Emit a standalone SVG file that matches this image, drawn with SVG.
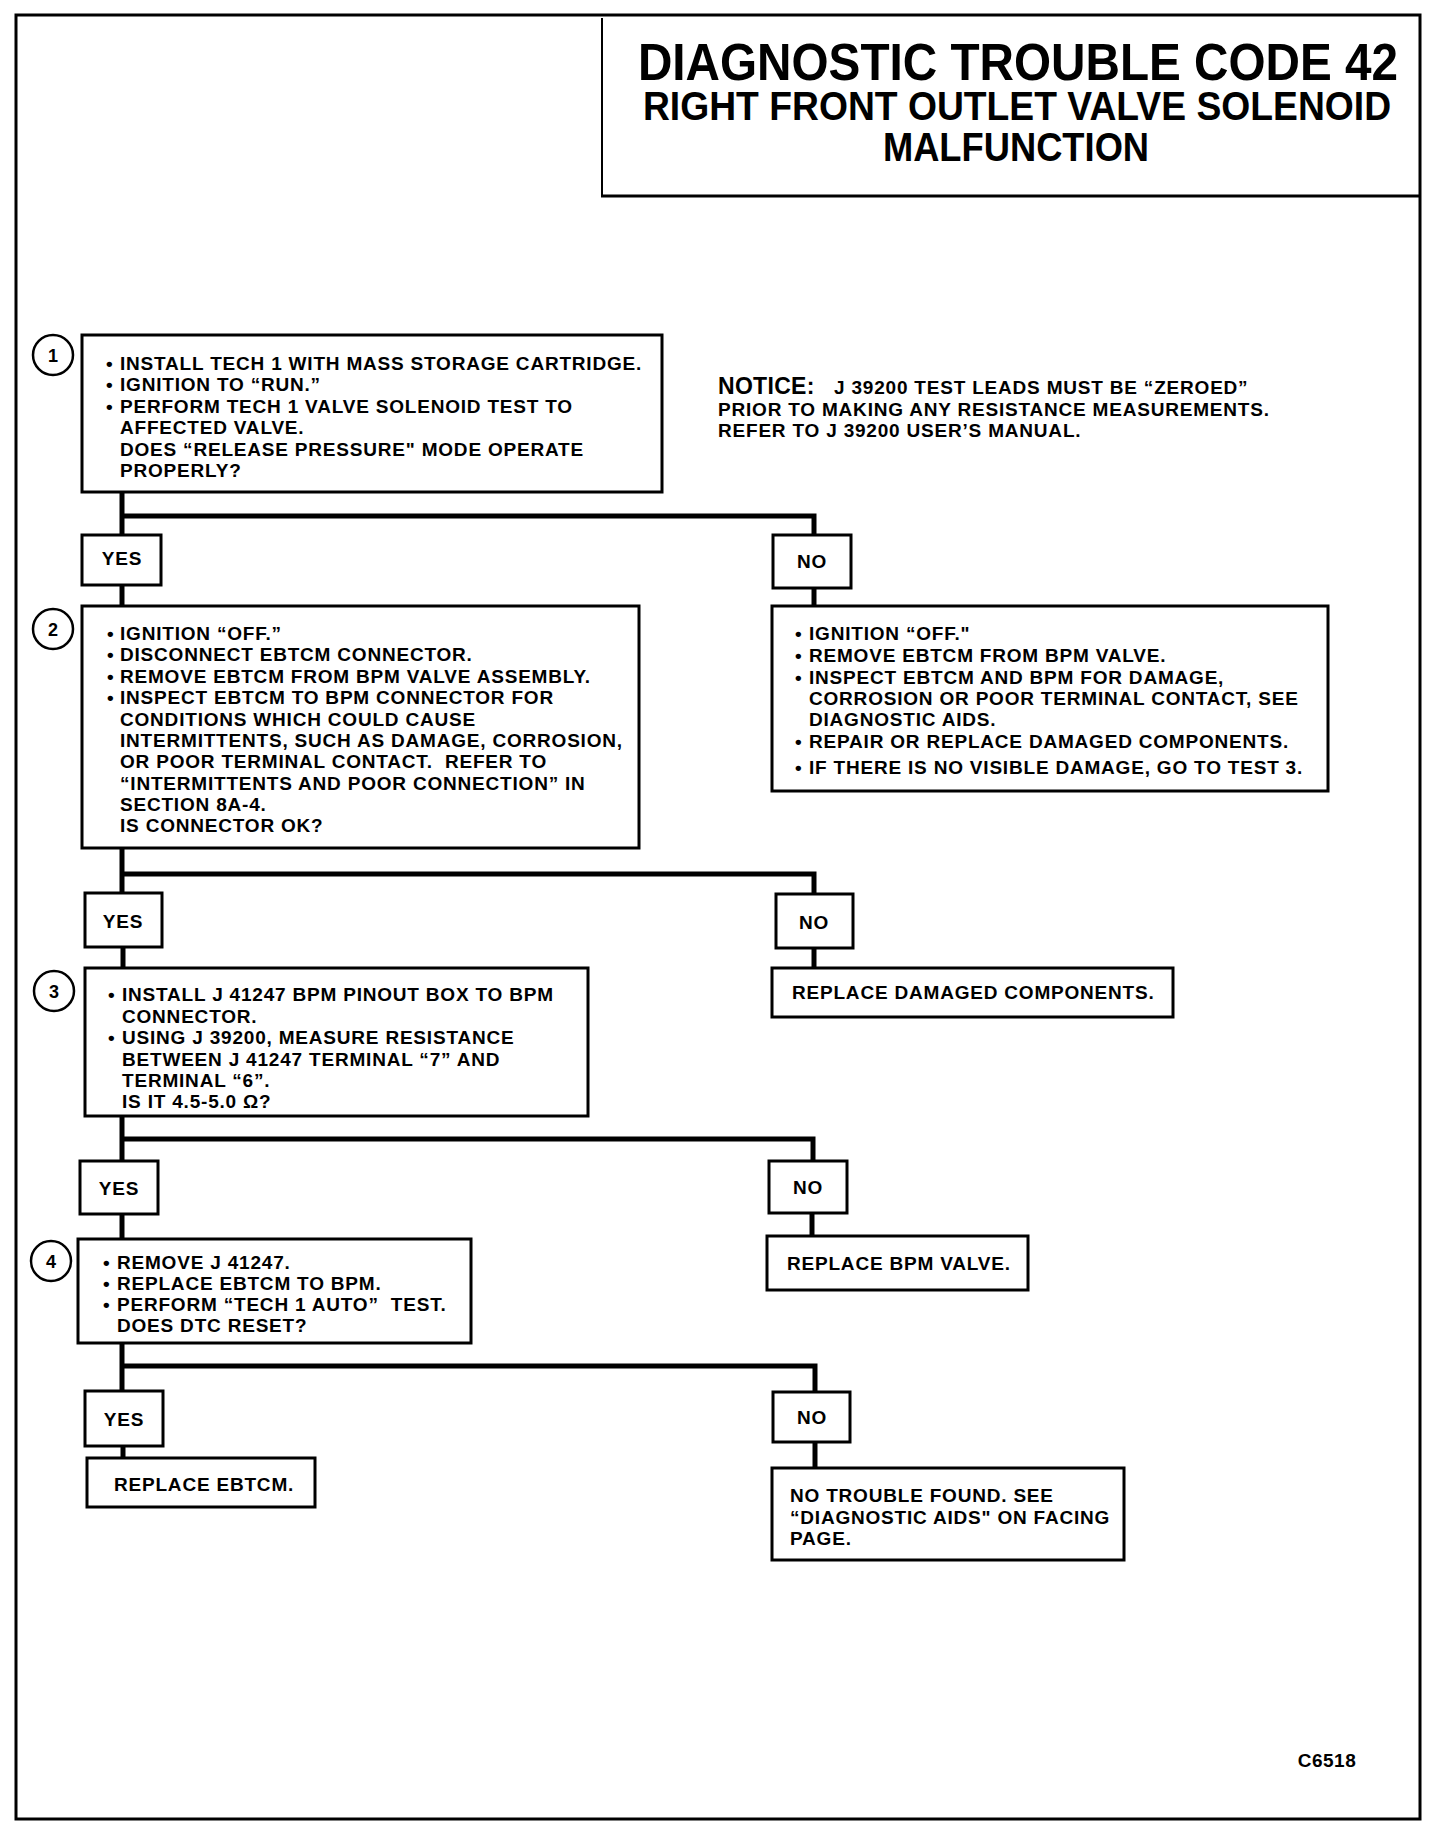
<svg xmlns="http://www.w3.org/2000/svg" width="1456" height="1842" viewBox="0 0 1456 1842">
<style>
.t{font-family:"Liberation Sans",Arial,sans-serif;font-weight:bold;font-size:19px;letter-spacing:0.8px;fill:#000}
.c{text-anchor:middle}
.h{font-family:"Liberation Sans",Arial,sans-serif;font-weight:bold;fill:#000;text-anchor:middle}
.box{fill:#fff;stroke:#000;stroke-width:3}
.conn{fill:none;stroke:#000;stroke-width:5}
.circ{fill:#fff;stroke:#000;stroke-width:2.5}
.num{font-family:"Liberation Sans",Arial,sans-serif;font-weight:bold;font-size:18px;text-anchor:middle;fill:#000}
</style>
<rect x="0" y="0" width="1456" height="1842" fill="#fff"/>
<g id="frame"><rect x="16" y="15" width="1404" height="1804" fill="none" stroke="#000" stroke-width="3"/></g>
<g id="title">
<line x1="602" y1="18" x2="602" y2="197" stroke="#000" stroke-width="2"/>
<line x1="601" y1="196" x2="1420" y2="196" stroke="#000" stroke-width="3"/>
<text class="h" transform="translate(1018,80) scale(0.917,1)" font-size="52">DIAGNOSTIC TROUBLE CODE 42</text>
<text class="h" transform="translate(1017,120) scale(0.932,1)" font-size="40">RIGHT FRONT OUTLET VALVE SOLENOID</text>
<text class="h" transform="translate(1016,161) scale(0.908,1)" font-size="40">MALFUNCTION</text>
</g>
<g id="notice">
<text class="t" x="718" y="394" style="font-size:23px;letter-spacing:0.3px">NOTICE:</text>
<text class="t" x="834" y="394">J 39200 TEST LEADS MUST BE “ZEROED”</text>
<text class="t" x="718" y="416">PRIOR TO MAKING ANY RESISTANCE MEASUREMENTS.</text>
<text class="t" x="718" y="437">REFER TO J 39200 USER’S MANUAL.</text>
</g>
<g id="connectors">
<path class="conn" d="M122,492 V535 M122,516 H814 V535"/>
<path class="conn" d="M122,585 V606"/>
<path class="conn" d="M814,588 V606"/>
<path class="conn" d="M122,848 V893 M122,874 H814 V895"/>
<path class="conn" d="M123,947 V968"/>
<path class="conn" d="M814,947 V968"/>
<path class="conn" d="M122,1116 V1161 M122,1139 H813 V1161"/>
<path class="conn" d="M122,1214 V1239"/>
<path class="conn" d="M812,1212 V1236"/>
<path class="conn" d="M122,1343 V1391 M122,1366 H815 V1392"/>
<path class="conn" d="M123,1446 V1458"/>
<path class="conn" d="M815,1442 V1468"/>
</g>
<g id="step1">
<circle class="circ" cx="53" cy="355" r="20"/><text class="num" x="53" y="362">1</text>
<rect class="box" x="82" y="335" width="580" height="157"/>
<text class="t" y="370"><tspan x="106">•</tspan><tspan x="120">INSTALL TECH 1 WITH MASS STORAGE CARTRIDGE.</tspan></text>
<text class="t" y="391"><tspan x="106">•</tspan><tspan x="120">IGNITION TO “RUN.”</tspan></text>
<text class="t" y="413"><tspan x="106">•</tspan><tspan x="120">PERFORM TECH 1 VALVE SOLENOID TEST TO</tspan></text>
<text class="t" x="120" y="434">AFFECTED VALVE.</text>
<text class="t" x="120" y="456">DOES “RELEASE PRESSURE" MODE OPERATE</text>
<text class="t" x="120" y="477">PROPERLY?</text>
</g>
<g id="yes1"><rect class="box" x="82" y="535" width="79" height="50"/><text class="t c" x="122" y="565">YES</text></g>
<g id="no1"><rect class="box" x="773" y="535" width="78" height="53"/><text class="t c" x="812" y="568">NO</text></g>
<g id="step2">
<circle class="circ" cx="53" cy="629" r="20"/><text class="num" x="53" y="636">2</text>
<rect class="box" x="82" y="606" width="557" height="242"/>
<text class="t" y="640"><tspan x="107">•</tspan><tspan x="120">IGNITION “OFF.”</tspan></text>
<text class="t" y="661"><tspan x="107">•</tspan><tspan x="120">DISCONNECT EBTCM CONNECTOR.</tspan></text>
<text class="t" y="683"><tspan x="107">•</tspan><tspan x="120">REMOVE EBTCM FROM BPM VALVE ASSEMBLY.</tspan></text>
<text class="t" y="704"><tspan x="107">•</tspan><tspan x="120">INSPECT EBTCM TO BPM CONNECTOR FOR</tspan></text>
<text class="t" x="120" y="726">CONDITIONS WHICH COULD CAUSE</text>
<text class="t" x="120" y="747">INTERMITTENTS, SUCH AS DAMAGE, CORROSION,</text>
<text class="t" x="120" y="768">OR POOR TERMINAL CONTACT.&#160; REFER TO</text>
<text class="t" x="120" y="790">“INTERMITTENTS AND POOR CONNECTION” IN</text>
<text class="t" x="120" y="811">SECTION 8A-4.</text>
<text class="t" x="120" y="832">IS CONNECTOR OK?</text>
</g>
<g id="inspect">
<rect class="box" x="772" y="606" width="556" height="185"/>
<text class="t" y="640"><tspan x="795">•</tspan><tspan x="809">IGNITION “OFF."</tspan></text>
<text class="t" y="662"><tspan x="795">•</tspan><tspan x="809">REMOVE EBTCM FROM BPM VALVE.</tspan></text>
<text class="t" y="684"><tspan x="795">•</tspan><tspan x="809">INSPECT EBTCM AND BPM FOR DAMAGE,</tspan></text>
<text class="t" x="809" y="705">CORROSION OR POOR TERMINAL CONTACT, SEE</text>
<text class="t" x="809" y="726">DIAGNOSTIC AIDS.</text>
<text class="t" y="748"><tspan x="795">•</tspan><tspan x="809">REPAIR OR REPLACE DAMAGED COMPONENTS.</tspan></text>
<text class="t" y="774"><tspan x="795">•</tspan><tspan x="809">IF THERE IS NO VISIBLE DAMAGE, GO TO TEST 3.</tspan></text>
</g>
<g id="yes2"><rect class="box" x="85" y="893" width="77" height="54"/><text class="t c" x="123" y="928">YES</text></g>
<g id="no2"><rect class="box" x="776" y="894" width="77" height="54"/><text class="t c" x="814" y="929">NO</text></g>
<g id="step3">
<circle class="circ" cx="54" cy="991" r="20"/><text class="num" x="54" y="998">3</text>
<rect class="box" x="85" y="968" width="503" height="148"/>
<text class="t" y="1001"><tspan x="108">•</tspan><tspan x="122">INSTALL J 41247 BPM PINOUT BOX TO BPM</tspan></text>
<text class="t" x="122" y="1023">CONNECTOR.</text>
<text class="t" y="1044"><tspan x="108">•</tspan><tspan x="122">USING J 39200, MEASURE RESISTANCE</tspan></text>
<text class="t" x="122" y="1066">BETWEEN J 41247 TERMINAL “7” AND</text>
<text class="t" x="122" y="1087">TERMINAL “6”.</text>
<text class="t" x="122" y="1108">IS IT 4.5-5.0 Ω?</text>
</g>
<g id="replace-damaged"><rect class="box" x="772" y="968" width="401" height="49"/><text class="t" x="792" y="999">REPLACE DAMAGED COMPONENTS.</text></g>
<g id="yes3"><rect class="box" x="80" y="1161" width="78" height="53"/><text class="t c" x="119" y="1195">YES</text></g>
<g id="no3"><rect class="box" x="769" y="1161" width="78" height="52"/><text class="t c" x="808" y="1194">NO</text></g>
<g id="step4">
<circle class="circ" cx="51" cy="1261" r="20"/><text class="num" x="51" y="1268">4</text>
<rect class="box" x="78" y="1239" width="393" height="104"/>
<text class="t" y="1269"><tspan x="103">•</tspan><tspan x="117">REMOVE J 41247.</tspan></text>
<text class="t" y="1290"><tspan x="103">•</tspan><tspan x="117">REPLACE EBTCM TO BPM.</tspan></text>
<text class="t" y="1311"><tspan x="103">•</tspan><tspan x="117">PERFORM “TECH 1 AUTO”&#160; TEST.</tspan></text>
<text class="t" x="117" y="1332">DOES DTC RESET?</text>
</g>
<g id="replace-bpm"><rect class="box" x="767" y="1236" width="261" height="54"/><text class="t" x="787" y="1270">REPLACE BPM VALVE.</text></g>
<g id="yes4"><rect class="box" x="85" y="1391" width="78" height="55"/><text class="t c" x="124" y="1426">YES</text></g>
<g id="no4"><rect class="box" x="773" y="1392" width="77" height="50"/><text class="t c" x="812" y="1424">NO</text></g>
<g id="replace-ebtcm"><rect class="box" x="87" y="1458" width="228" height="49"/><text class="t" x="114" y="1491">REPLACE EBTCM.</text></g>
<g id="no-trouble"><rect class="box" x="772" y="1468" width="352" height="92"/>
<text class="t" x="790" y="1502">NO TROUBLE FOUND. SEE</text>
<text class="t" x="790" y="1524">“DIAGNOSTIC AIDS" ON FACING</text>
<text class="t" x="790" y="1545">PAGE.</text>
</g>
<g id="code"><text class="t" x="1327" y="1767" text-anchor="middle" style="letter-spacing:0.5px">C6518</text></g>
</svg>
